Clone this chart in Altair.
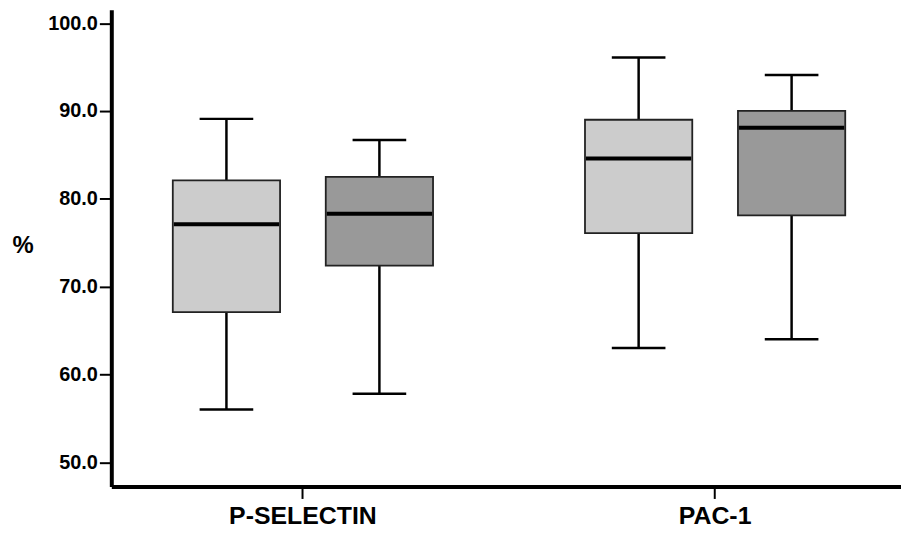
import altair as alt
import pandas as pd

categories = ["P-SELECTIN", "PAC-1"]
groups = ["Group 1", "Group 2"]
# order: (P-SELECTIN, g1), (P-SELECTIN, g2), (PAC-1, g1), (PAC-1, g2)
cat_col = ["P-SELECTIN", "P-SELECTIN", "PAC-1", "PAC-1"]
grp_col = ["Group 1", "Group 2", "Group 1", "Group 2"]
lower = [56.0, 57.8, 63.0, 64.0]
q1 = [67.1, 72.4, 76.1, 78.1]
median = [77.1, 78.3, 84.6, 88.1]
q3 = [82.1, 82.5, 89.0, 90.0]
upper = [89.1, 86.7, 96.1, 94.1]
fills = ["#cccccc", "#999999"]
y_ticks = [50, 60, 70, 80, 90, 100]

df = pd.DataFrame({
    "category": cat_col, "group": grp_col,
    "lower": lower, "q1": q1, "median": median, "q3": q3, "upper": upper,
})

FONT = "Liberation Sans"

xenc = alt.X("category:N", sort=categories,
             scale=alt.Scale(paddingInner=0.2578, paddingOuter=0.0868, align=0.54),
             axis=alt.Axis(title=None, labelAngle=0, labelFont=FONT, labelFontSize=25,
                           labelFontWeight="bold", labelColor="black", labelPadding=5,
                           tickSize=12, tickWidth=2, tickColor="black",
                           domainWidth=4, domainColor="black"))
xoff = alt.XOffset("group:N", sort=groups,
                   scale=alt.Scale(paddingInner=0, paddingOuter=0))
yscale = alt.Scale(domain=[47.23, 101.53], nice=False, zero=False)
yaxis = alt.Axis(values=y_ticks, format=".1f", title="%", titleAngle=0,
                 titleFont=FONT, titleFontSize=24, titleFontWeight="bold",
                 titleColor="black", titleX=-100, titleY=237, titleAlign="left",
                 titleBaseline="middle",
                 labelFont=FONT, labelFontSize=20, labelColor="black",
                 labelFontWeight="bold", labelPadding=2,
                 tickSize=12, tickWidth=2, tickColor="black",
                 domainWidth=4, domainColor="black", grid=False)

base = alt.Chart(df).encode(x=xenc, xOffset=xoff)

whisk_lo = base.mark_rule(color="black", strokeWidth=2.5, opacity=1).encode(
    y=alt.Y("lower:Q", scale=yscale, axis=yaxis), y2="q1:Q")
whisk_hi = base.mark_rule(color="black", strokeWidth=2.5, opacity=1).encode(
    y=alt.Y("q3:Q", scale=yscale), y2="upper:Q")
cap_lo = base.mark_tick(color="black", size=54, thickness=2.5, opacity=1).encode(
    y=alt.Y("lower:Q", scale=yscale))
cap_hi = base.mark_tick(color="black", size=54, thickness=2.5, opacity=1).encode(
    y=alt.Y("upper:Q", scale=yscale))
box = base.mark_bar(size=108, stroke="#222222", strokeWidth=1.8, opacity=1).encode(
    y=alt.Y("q1:Q", scale=yscale), y2="q3:Q",
    color=alt.Color("group:N", scale=alt.Scale(domain=groups, range=fills), legend=None))
med = base.mark_tick(color="black", size=106, thickness=4, opacity=1).encode(
    y=alt.Y("median:Q", scale=yscale))

chart = alt.layer(whisk_lo, whisk_hi, cap_lo, cap_hi, box, med).properties(
    width=795, height=480,
    autosize=alt.AutoSizeParams(type="none"),
    padding={"left": 104, "top": 0, "right": 0, "bottom": 40},
).configure_view(strokeWidth=0)

chart.save("out.html", embed_options={"renderer": "svg", "actions": False})
